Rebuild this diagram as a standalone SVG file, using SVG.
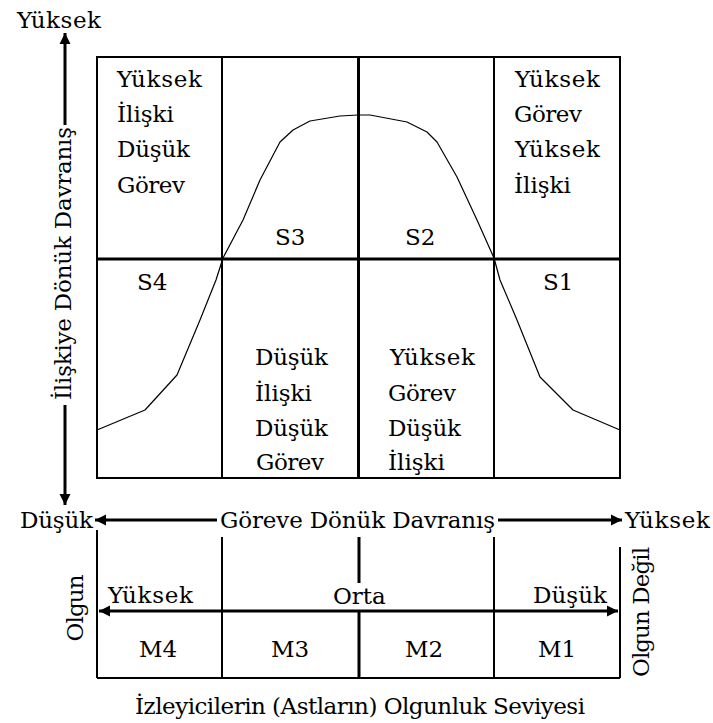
<svg xmlns="http://www.w3.org/2000/svg" width="713" height="723" viewBox="0 0 713 723">
<style>
  text { font-family: "DejaVu Serif", "Liberation Serif", serif; font-size: 23px; fill: #000; }
  .thin { stroke: #000; stroke-width: 2; fill: none; }
  .thick { stroke: #000; stroke-width: 3; fill: none; }
  .curve { stroke: #000; stroke-width: 1.2; fill: none; stroke-linejoin: round; }
  .arrow { stroke: #000; stroke-width: 3; fill: none; }
  .mid { text-anchor: middle; }
</style>
<defs>
  <marker id="ah" markerUnits="userSpaceOnUse" markerWidth="12" markerHeight="12" refX="11" refY="6" orient="auto-start-reverse">
    <path d="M0,0.5 L11,6 L0,11.5 z" fill="#000"/>
  </marker>
</defs>
<rect width="713" height="723" fill="#fff"/>

<g id="grid">
  <rect class="thin" x="97" y="57" width="523" height="421"/>
  <line class="thin" x1="222" y1="57" x2="222" y2="478"/>
  <line class="thin" x1="494" y1="57" x2="494" y2="478"/>
  <line class="thick" x1="358.5" y1="57" x2="358.5" y2="478"/>
  <line class="thick" x1="97" y1="259" x2="620" y2="259"/>
</g>

<g id="curve">
  <polyline class="curve" points="97,430 145,410 177,375 200,320 216,280 223,258 243,220 260,180 280,142 293,130 310,121 340,116 358,115 370,115 407,122 427,132 437,142 457,177 477,220 494,258 500,280 517,320 540,377 573,410 620,430"/>
</g>

<g id="cell-top-left">
  <text x="117" y="87" textLength="85">Yüksek</text>
  <text x="117" y="122">İlişki</text>
  <text x="117" y="157" textLength="73">Düşük</text>
  <text x="117" y="193" textLength="68">Görev</text>
</g>
<g id="cell-top-right">
  <text x="515" y="87" textLength="85">Yüksek</text>
  <text x="514" y="122" textLength="68">Görev</text>
  <text x="515" y="157" textLength="85">Yüksek</text>
  <text x="514" y="193">İlişki</text>
</g>
<g id="cell-bottom-midleft">
  <text x="255" y="365" textLength="73">Düşük</text>
  <text x="255" y="401">İlişki</text>
  <text x="255" y="436" textLength="73">Düşük</text>
  <text x="256" y="470" textLength="68">Görev</text>
</g>
<g id="cell-bottom-midright">
  <text x="390" y="365" textLength="85">Yüksek</text>
  <text x="388" y="401" textLength="68">Görev</text>
  <text x="388" y="436" textLength="73">Düşük</text>
  <text x="388" y="470">İlişki</text>
</g>
<g id="styles">
  <text x="275" y="245">S3</text>
  <text x="405" y="245">S2</text>
  <text x="137" y="290">S4</text>
  <text x="543" y="290">S1</text>
</g>

<g id="maturity">
  <line class="thin" x1="97" y1="530" x2="97" y2="678"/>
  <line class="thin" x1="620" y1="547" x2="620" y2="678"/>
  <line class="thin" x1="97" y1="678" x2="620" y2="678"/>
  <line class="thin" x1="222" y1="537" x2="222" y2="678"/>
  <line class="thin" x1="494" y1="537" x2="494" y2="678"/>
  <line class="thick" x1="359" y1="537" x2="359" y2="583"/>
  <line class="thick" x1="359" y1="611" x2="359" y2="678"/>
  <text x="108" y="603" textLength="85">Yüksek</text>
  <text x="333" y="604">Orta</text>
  <text x="533" y="603" textLength="74">Düşük</text>
  <text class="mid" x="158" y="657">M4</text>
  <text class="mid" x="290" y="657">M3</text>
  <text class="mid" x="424" y="657">M2</text>
  <text class="mid" x="557" y="657">M1</text>
  <text class="mid" transform="translate(83,608) rotate(-90)" textLength="67">Olgun</text>
  <text class="mid" transform="translate(649,612) rotate(-90)" textLength="130" lengthAdjust="spacing">Olgun Değil</text>
</g>

<g id="connectors">
  <line class="arrow" x1="65" y1="125" x2="65" y2="33" marker-end="url(#ah)"/>
  <line class="arrow" x1="65" y1="405" x2="65" y2="505" marker-end="url(#ah)"/>
  <line class="arrow" x1="217" y1="520" x2="95" y2="520" marker-end="url(#ah)"/>
  <line class="arrow" x1="498" y1="520" x2="622" y2="520" marker-end="url(#ah)"/>
  <line class="arrow" x1="99" y1="611" x2="618" y2="611" marker-start="url(#ah)" marker-end="url(#ah)"/>
</g>

<g id="axis-labels">
  <text x="17" y="28" textLength="84">Yüksek</text>
  <text class="mid" transform="translate(71,263.5) rotate(-90)" textLength="273" lengthAdjust="spacing">İlişkiye Dönük Davranış</text>
  <text x="20" y="528" textLength="73">Düşük</text>
  <text x="220" y="528" textLength="275" lengthAdjust="spacing">Göreve Dönük Davranış</text>
  <text x="625" y="528" textLength="85">Yüksek</text>
  <text class="mid" x="360" y="714" textLength="450" lengthAdjust="spacing">İzleyicilerin (Astların) Olgunluk Seviyesi</text>
</g>
</svg>
